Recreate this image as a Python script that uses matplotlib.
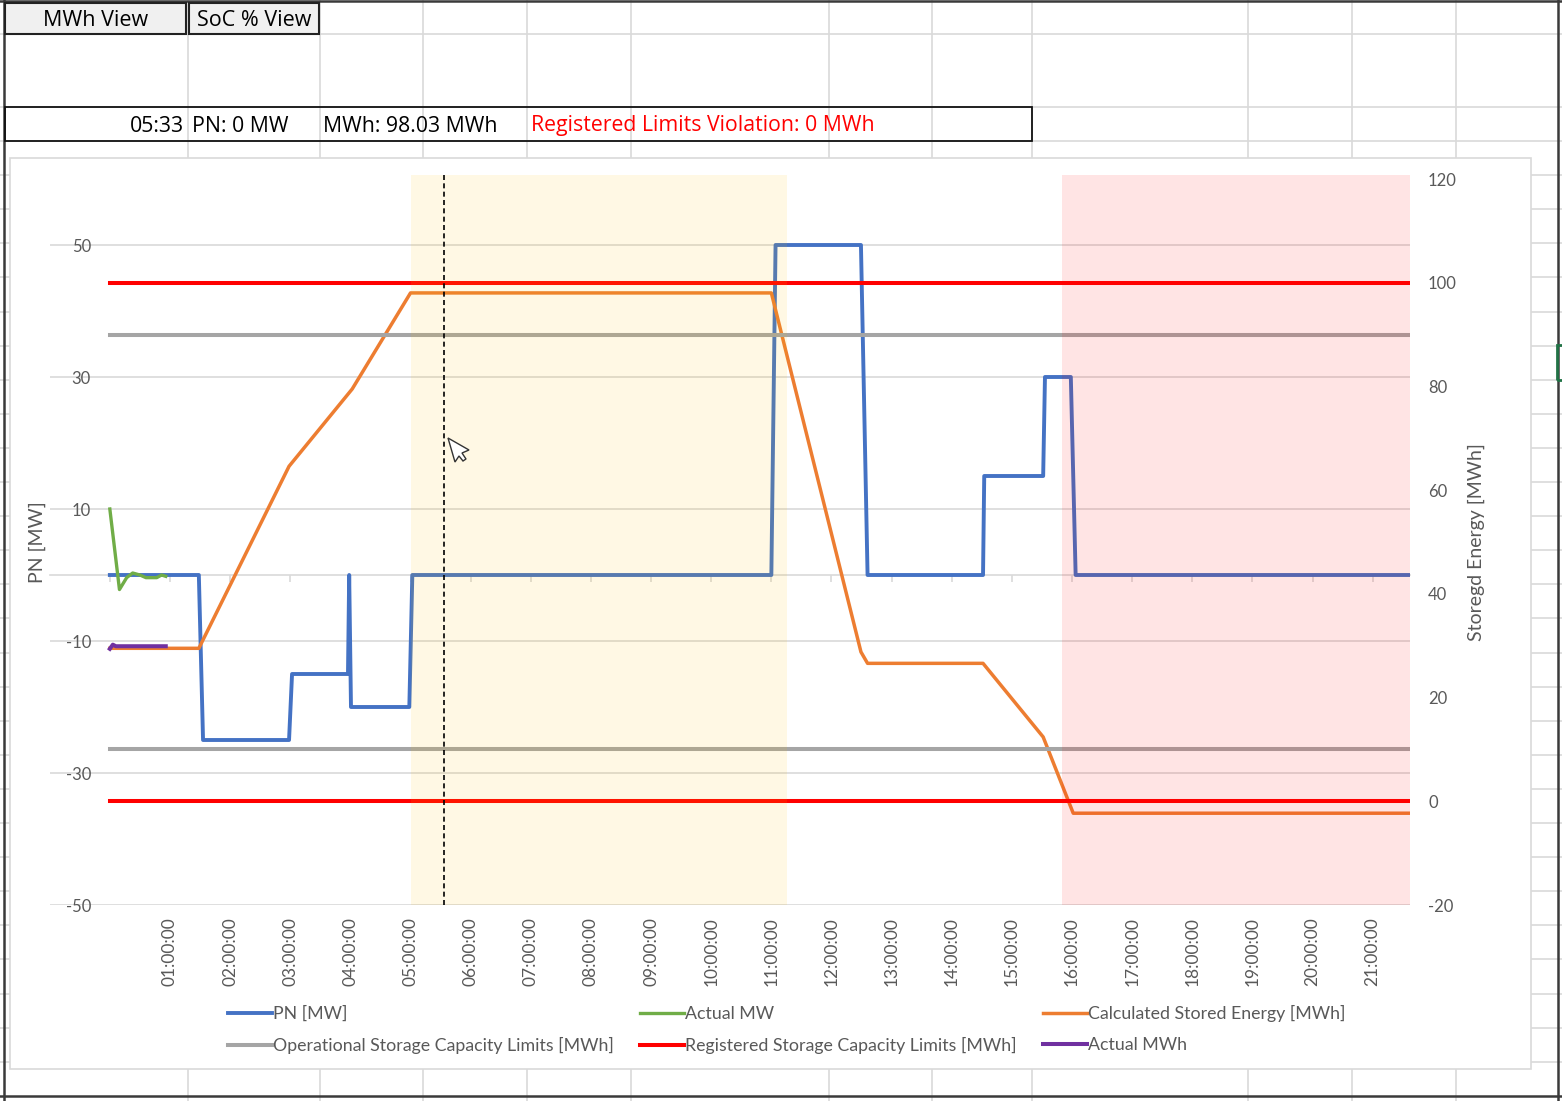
import matplotlib
matplotlib.use('Agg')
import matplotlib.pyplot as plt
from matplotlib.lines import Line2D
from matplotlib.patches import Rectangle, Polygon

plt.rcParams['font.family'] = ['Lato', 'DejaVu Sans']
plt.rcParams['axes.unicode_minus'] = False

# --- data (hours from 00:00) ---
pn_hours = [0.0, 1.48, 1.55, 2.98, 3.03, 3.96, 3.98, 4.01, 4.98, 5.03,
            11.0, 11.07, 12.49, 12.6, 14.52, 14.54, 15.52, 15.55, 15.98, 16.06, 21.62]
pn_mw = [0, 0, -25, -25, -15, -15, 0, -20, -20, 0,
         0, 50, 50, 0, 0, 15, 15, 30, 30, 0, 0]

actual_mw_hours = [0.0, 0.16, 0.28, 0.38, 0.5, 0.6, 0.78, 0.86, 0.93]
actual_mw = [10, -2.2, -0.4, 0.3, 0, -0.4, -0.4, 0, -0.2]

energy_hours = [0.0, 1.48, 2.98, 4.03, 5.0, 11.0, 12.49, 12.6, 14.52, 15.52, 16.02, 21.62]
energy_mwh = [29.5, 29.5, 64.6, 79.5, 98.03, 98.03, 28.8, 26.6, 26.6, 12.4, -2.3, -2.3]

actual_mwh_hours = [0.0, 0.05, 0.1, 0.3, 0.6, 0.93]
actual_mwh = [29.4, 30.2, 29.9, 29.9, 29.9, 29.9]

limit_hours = [0.0, 21.62]
operational_limits = [10, 90]
registered_limits = [0, 100]

window_span = (5.0, 11.26)
late_span = (15.83, 21.62)
cursor_hour = 5.55

tick_hours = list(range(1, 22))
tick_labels = ['%02d:00:00' % h for h in tick_hours]
left_ticks = [-50, -30, -10, 10, 30, 50]
right_ticks = [-20, 0, 20, 40, 60, 80, 100, 120]

status_time = '05:33'
status_pn = 'PN: 0 MW'
status_mwh = 'MWh: 98.03 MWh'
status_violation = 'Registered Limits Violation: 0 MWh'

# --- sheet background ---
W, H = 1562, 1101
fig = plt.figure(figsize=(W / 100, H / 100), dpi=100)


def fx(px):
    return px / W


def fy(py):
    return 1 - py / H


col_x = [188, 320, 423, 527, 631, 829, 932, 1032, 1248, 1352, 1456]
row_y = [34, 107, 141] + [141 + 34.1 * k for k in range(1, 28)]
for x in col_x:
    fig.add_artist(Line2D([fx(x), fx(x)], [0, 1], color='#D9D9D9', lw=1.2, zorder=-6))
for y in row_y:
    fig.add_artist(Line2D([0, 1], [fy(y), fy(y)], color='#D9D9D9', lw=1.2, zorder=-6))
for x in (4, 1558):
    fig.add_artist(Line2D([fx(x), fx(x)], [0, 1], color='#3A3A3A', lw=1.8, zorder=-5))
for y in (1, 1096):
    fig.add_artist(Line2D([0, 1], [fy(y), fy(y)], color='#3A3A3A', lw=1.8, zorder=-5))

# buttons and status bar (Open Sans is closer to the wide sheet font)
sheet_font = ['Open Sans', 'DejaVu Sans']
for x0, x1, label in [(5, 186, 'MWh View'), (189, 319, 'SoC % View')]:
    fig.add_artist(Rectangle((fx(x0), fy(34)), fx(x1) - fx(x0), fy(3) - fy(34),
                             facecolor='#F0F0F0', edgecolor='#222222', lw=1.5, zorder=-4))
    fig.text(fx((x0 + x1) / 2), fy(20), label, ha='center', va='center',
             fontsize=15.5, family=sheet_font)

fig.add_artist(Rectangle((fx(5), fy(141)), fx(1032) - fx(5), fy(107) - fy(141),
                         facecolor='none', edgecolor='#111111', lw=1.3, zorder=-4))
fig.text(fx(184), fy(126), status_time, ha='right', va='center', fontsize=15.3, family=sheet_font)
fig.text(fx(192), fy(126), status_pn, ha='left', va='center', fontsize=15.3, family=sheet_font)
fig.text(fx(323), fy(126), status_mwh, ha='left', va='center', fontsize=15.3, family=sheet_font)
fig.text(fx(531), fy(126), status_violation, ha='left', va='center', fontsize=15.3,
         family=sheet_font, color='#FF0000')

fig.add_artist(Rectangle((fx(1557), fy(380)), fx(1565) - fx(1557), fy(345) - fy(380),
                         facecolor='none', edgecolor='#217346', lw=2, zorder=-4))

# chart area
fig.add_artist(Rectangle((fx(10), fy(1069)), fx(1531) - fx(10), fy(158) - fy(1069),
                         facecolor='white', edgecolor='#D9D9D9', lw=1.2, zorder=-3))

ax = fig.add_axes([fx(50), fy(905), fx(1410) - fx(50), fy(179) - fy(905)])
ax.set_facecolor('none')
ax.set_xlim(-0.995, 21.62)
ax.set_ylim(-50, 60)

pn_line, = ax.plot(pn_hours, pn_mw, color='#4472C4', lw=2.8, label='PN [MW]', zorder=3)
act_line, = ax.plot(actual_mw_hours, actual_mw, color='#70AD47', lw=2.4, label='Actual MW', zorder=3)

ax.set_yticks(left_ticks)
ax.set_yticklabels([str(v) for v in left_ticks])
ax.grid(axis='y', color='#D9D9D9', lw=1.2)
ax.set_axisbelow(True)
for s in ('left', 'right', 'top'):
    ax.spines[s].set_visible(False)
ax.spines['bottom'].set_position(('data', 0))
ax.spines['bottom'].set_color('#D9D9D9')
ax.spines['bottom'].set_linewidth(1.2)
ax.spines['bottom'].set_zorder(0.5)
ax.set_xticks(range(0, 22))
ax.tick_params(axis='x', direction='out', length=5, width=1.2, color='#D9D9D9', labelbottom=False)
ax.tick_params(axis='y', length=0, pad=-29.5, labelsize=12, labelcolor='#595959')
ax.set_ylabel('PN [MW]', fontsize=14, color='#595959')
ax.yaxis.set_label_coords(-0.003, 0.5)

sec = ax.secondary_xaxis('bottom')
sec.set_xticks(tick_hours)
sec.set_xticklabels(tick_labels)
sec.spines['bottom'].set_visible(False)
sec.tick_params(length=0, pad=9, labelsize=12.5, labelcolor='#595959', labelrotation=90)

ax2 = ax.twinx()
ax2.set_ylim(-20, 120)
energy_line, = ax2.plot(energy_hours, energy_mwh, color='#ED7D31', lw=2.5,
                        label='Calculated Stored Energy [MWh]')
op_line = None
for v in operational_limits:
    op_line, = ax2.plot(limit_hours, [v, v], color='#A5A5A5', lw=2.9,
                        label='Operational Storage Capacity Limits [MWh]')
reg_line = None
for v in registered_limits:
    reg_line, = ax2.plot(limit_hours, [v, v], color='#FF0000', lw=2.9,
                         label='Registered Storage Capacity Limits [MWh]')
mwh_line, = ax2.plot(actual_mwh_hours, actual_mwh, color='#7030A0', lw=2.9, label='Actual MWh')

ax2.axvspan(*window_span, ymin=0, ymax=1.0055, color='#FFC000', alpha=0.105, lw=0, zorder=5, clip_on=False)
ax2.axvspan(*late_span, ymin=0, ymax=1.0055, color='#FF0000', alpha=0.105, lw=0, zorder=5, clip_on=False)
ax2.axvline(cursor_hour, ymin=0, ymax=1.0055, color='black', lw=1.2, ls=(0, (3, 2)), zorder=6, clip_on=False)

ax2.set_yticks(right_ticks)
ax2.set_yticklabels([str(v) for v in right_ticks])
for s in ax2.spines.values():
    s.set_visible(False)
ax2.tick_params(axis='y', length=0, pad=13, labelsize=12, labelcolor='#595959')
ax2.set_ylabel('Storegd Energy [MWh]', fontsize=14, color='#595959')
ax2.yaxis.set_label_coords(1.0425, 0.5)

# mouse pointer
cursor = [(448, 438), (455, 462), (459, 456), (463, 461), (466, 459), (462, 453), (469, 450)]
fig.add_artist(Polygon([(fx(a), fy(b)) for a, b in cursor], closed=True,
                       facecolor='white', edgecolor='#333333', lw=1, zorder=10))

handles = [pn_line, op_line, act_line, reg_line, energy_line, mwh_line]
fig.legend(handles=handles, labels=[h.get_label() for h in handles],
           loc='upper left', bbox_to_anchor=(fx(228), fy(1005)), ncol=3,
           frameon=False, fontsize=12.8, labelcolor='#595959',
           handlelength=2.5, handletextpad=0.05, columnspacing=1.45,
           labelspacing=0.85, borderpad=0, borderaxespad=0)

fig.savefig('out.png', dpi=100)
